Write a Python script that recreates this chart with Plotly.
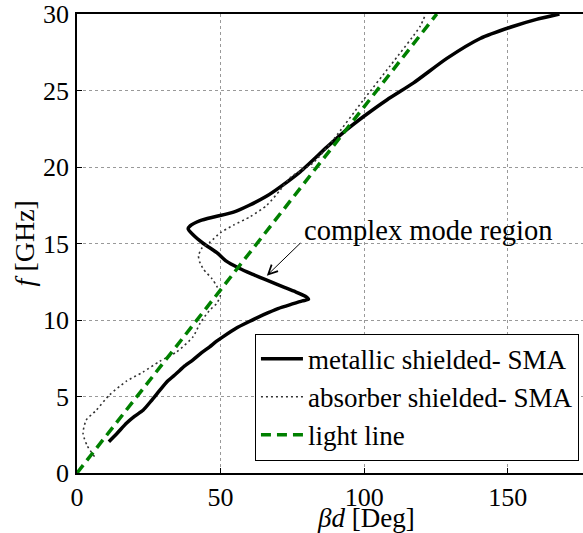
import plotly.graph_objects as go

# metallic shielded SMA (solid black)
met_x = [11.1, 14, 17.2, 20, 23, 26, 28.8, 31.5, 34.6, 37.5, 40.4, 43.3, 46.2, 48.5, 50.8, 55.4, 60, 65, 70, 75, 78.5, 80.6,
         79.5, 76, 72, 66.1, 61, 56.3, 52, 48.7, 44, 40.5, 38.7, 39.4, 42.9, 48, 54.5, 60, 66.1, 70.8, 77.8, 87, 93, 99.8,
         108, 117.2, 128.8, 140.4, 152, 160, 168]
met_y = [2.05, 2.6, 3.25, 3.7, 4.1, 4.75, 5.4, 6.0, 6.5, 7.0, 7.4, 7.85, 8.25, 8.6, 8.9, 9.46, 9.9, 10.35, 10.75, 11.05, 11.25, 11.35,
         11.55, 11.85, 12.15, 12.6, 13.0, 13.4, 13.85, 14.4, 15.0, 15.55, 15.95, 16.15, 16.5, 16.75, 17.05, 17.5, 18.1, 18.7, 19.7, 21.3, 22.3, 23.3,
         24.4, 25.5, 27.1, 28.4, 29.2, 29.65, 30.0]

# absorber shielded SMA (dotted)
abs_x = [6.1, 3.5, 2.1, 3.2, 6.7, 11.3, 17.2, 23, 28.8, 34.6, 40.4, 42.9, 46, 48.7, 49.9, 48.7, 47, 44.1, 42.7, 42.3, 43.5, 46.4,
         49.9, 54.5, 60.3, 66.1, 70.8, 74.2, 82.4, 89.3, 99.8, 109, 119.5, 121.2]
abs_y = [1.07, 1.8, 2.6, 3.46, 4.1, 5.1, 6.0, 6.6, 7.3, 7.9, 8.9, 9.8, 10.6, 11.1, 11.6, 12.2, 12.7, 13.3, 13.8, 14.2, 14.7, 15.1,
         15.7, 16.2, 16.75, 17.5, 18.5, 19.3, 20.3, 21.8, 24.4, 26.6, 29.2, 29.9]

# light line
light_x = [0, 125.3]
light_y = [0, 30]

x_ticks = [0, 50, 100, 150]
y_ticks = [0, 5, 10, 15, 20, 25, 30]

FONT = "Liberation Serif, Times New Roman, DejaVu Serif, serif"

fig = go.Figure()
fig.add_trace(go.Scatter(x=met_x, y=met_y, mode="lines", name="metallic shielded- SMA",
                         line=dict(color="black", width=3.5, shape="spline", smoothing=0.6)))
fig.add_trace(go.Scatter(x=abs_x, y=abs_y, mode="lines", name="absorber shielded- SMA",
                         line=dict(color="#333333", width=1.6, dash="2px,3px", shape="spline", smoothing=0.6)))
fig.add_trace(go.Scatter(x=light_x, y=light_y, mode="lines", name="light line",
                         line=dict(color="#008000", width=3.5, dash="10px,6px")))

axis_common = dict(showline=True, linecolor="black", linewidth=1.5, ticks="inside", ticklen=5,
                   tickcolor="black", showgrid=True, gridcolor="#999999", griddash="dot", gridwidth=1,
                   zeroline=False, ticklabeloverflow="allow",
                   tickfont=dict(family=FONT, size=26, color="black"))

fig.update_xaxes(range=[0, 176.2], tickvals=x_ticks, mirror=True, ticklabelstandoff=0, **axis_common)
fig.update_yaxes(range=[0, 30], tickvals=y_ticks, mirror=False, ticklabelstandoff=1, **axis_common)

# axis titles
fig.add_annotation(x=0.571, y=-0.099, xref="paper", yref="paper", text="<i>βd</i> [Deg]", showarrow=False,
                   xanchor="center", yanchor="middle", font=dict(family=FONT, size=27, color="black"))
fig.add_annotation(x=-0.103, y=0.5, xref="paper", yref="paper", text="<i>f</i> [GHz]", showarrow=False,
                   textangle=-90, xanchor="center", yanchor="middle", font=dict(family=FONT, size=28, color="black"))

# complex mode region label + arrow
fig.add_annotation(text="complex mode region", x=78.3, y=15.88, xref="x", yref="y", showarrow=False,
                   xanchor="left", yanchor="middle", font=dict(family=FONT, size=28.5, color="black"))
fig.add_annotation(text="", x=66.1, y=12.9, ax=78.3, ay=15.12, xref="x", yref="y", axref="x", ayref="y",
                   showarrow=True, arrowhead=5, arrowwidth=1, arrowsize=1.8, arrowcolor="black")

fig.update_layout(
    width=583, height=533,
    margin=dict(l=77, r=0, t=14, b=60),
    plot_bgcolor="white", paper_bgcolor="white",
    showlegend=True,
    legend=dict(x=0.992, y=0.027, xanchor="right", yanchor="bottom", bordercolor="black", borderwidth=1,
                bgcolor="white", font=dict(family=FONT, size=27, color="black"), tracegroupgap=0,
                itemwidth=42),
    font=dict(family=FONT, color="black"),
)
fig.write_html("out.html")
